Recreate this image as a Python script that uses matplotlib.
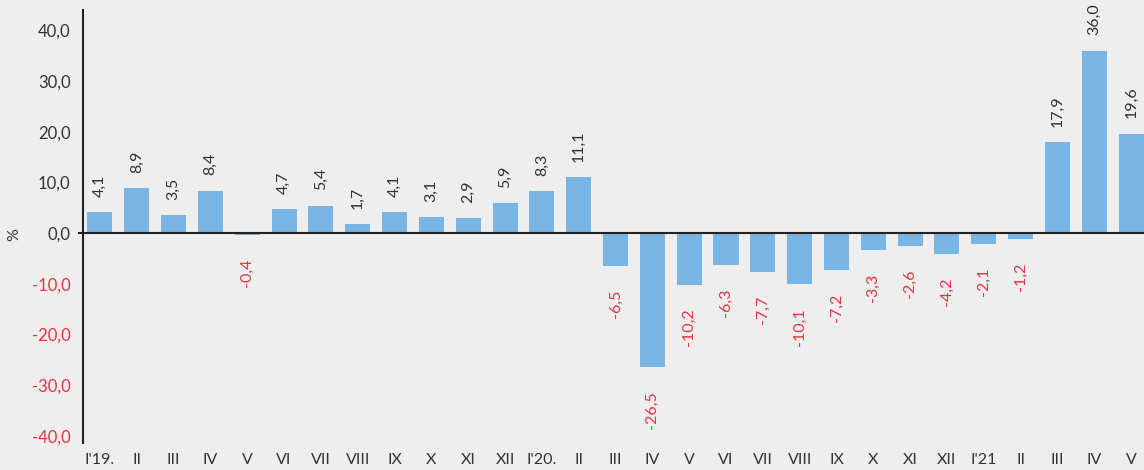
import matplotlib
matplotlib.use("Agg")
import matplotlib.pyplot as plt

categories = ["I'19.", "II", "III", "IV", "V", "VI", "VII", "VIII", "IX", "X", "XI", "XII",
              "I'20.", "II", "III", "IV", "V", "VI", "VII", "VIII", "IX", "X", "XI", "XII",
              "I'21", "II", "III", "IV", "V"]
values = [4.1, 8.9, 3.5, 8.4, -0.4, 4.7, 5.4, 1.7, 4.1, 3.1, 2.9, 5.9,
          8.3, 11.1, -6.5, -26.5, -10.2, -6.3, -7.7, -10.1, -7.2, -3.3, -2.6, -4.2,
          -2.1, -1.2, 17.9, 36.0, 19.6]
yticks = [-40, -30, -20, -10, 0, 10, 20, 30, 40]

BG = "#eeeeee"
BAR = "#79b5e4"
DARK = "#333333"
RED = "#e8333f"

plt.rcParams['font.family'] = ['Lato', 'DejaVu Sans']

fig = plt.figure(figsize=(11.44, 4.70), dpi=100, facecolor=BG)
ax = fig.add_axes([83/1144, 27/470, 1 - 83/1144, 433/470])
ax.set_facecolor(BG)

x = list(range(len(values)))
ax.bar(x, values, width=0.68, color=BAR, zorder=2)
ax.set_xlim(-0.46, 28.35)
ax.set_ylim(-41.4, 44.0)

for xi, v in zip(x, values):
    lbl = f"{v:.1f}".replace(".", ",")
    if v >= 0:
        ax.annotate(lbl, (xi, v), xytext=(0, 11), textcoords="offset points",
                    rotation=90, ha="center", va="bottom", fontsize=11.5, color=DARK)
    else:
        ax.annotate(lbl, (xi, v), xytext=(0, -17), textcoords="offset points",
                    rotation=90, ha="center", va="top", fontsize=11.5, color=RED)

ax.axhline(0, xmin=-0.004, color="#222222", lw=1.5, zorder=3, clip_on=False)

ax.set_yticks(yticks)
ax.set_yticklabels([f"{t:.1f}".replace(".", ",") for t in yticks], fontsize=12)
for t, lab in zip(yticks, ax.get_yticklabels()):
    lab.set_color(RED if t < 0 else DARK)
ax.tick_params(axis="y", length=0, pad=9)
ax.set_xticks(x)
ax.set_xticklabels(categories, fontsize=11.5, color=DARK)
ax.tick_params(axis="x", length=0, pad=7)

for s in ["top", "right", "bottom"]:
    ax.spines[s].set_visible(False)
ax.spines["left"].set_color("#222222")
ax.spines["left"].set_linewidth(1.5)

fig.text(14/1144, 235/470, "%", rotation=90, ha="center", va="center", fontsize=11.5, color=DARK)

fig.savefig("out.png", dpi=100, facecolor=BG)
